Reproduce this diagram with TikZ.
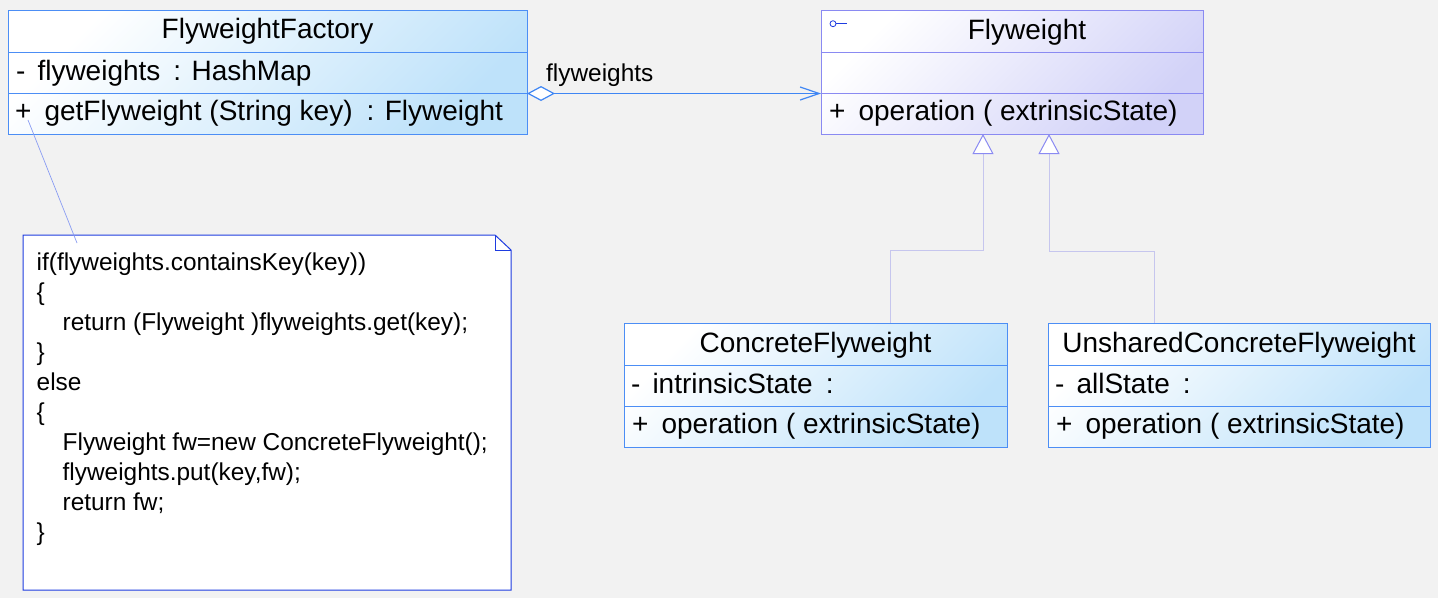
\documentclass[tikz,border=0pt]{standalone}
\usepackage{fontspec}
\setmainfont{Liberation Sans}
\usetikzlibrary{arrows.meta,positioning}

\definecolor{bgcol}{HTML}{F2F2F2}
\definecolor{clsline}{HTML}{4C8EF5}
\definecolor{clsfill}{HTML}{BEE2FA}
\definecolor{ifline}{HTML}{8A8AF2}
\definecolor{iffill}{HTML}{D2D2F8}
\definecolor{genline}{HTML}{C6C6EE}
\definecolor{noteborder}{HTML}{1E3CE0}
\definecolor{noteline}{HTML}{8A9CF2}
\definecolor{assoccol}{HTML}{3F86F4}

\tikzset{
  clsbox/.style={draw=clsline, line width=1pt, top color=white, bottom color=clsfill,
    shading angle=45, inner sep=0pt, outer sep=0pt, anchor=north west},
  ifbox/.style={clsbox, draw=ifline, bottom color=iffill, shading angle=45},
  title/.style={inner sep=0pt, anchor=base, font=\fontsize{28}{34}\selectfont},
  member/.style={inner sep=0pt, anchor=base west, font=\fontsize{28}{34}\selectfont},
  code/.style={inner sep=0pt, anchor=north west, align=left, font=\fontsize{24.4}{30}\selectfont},
  lbl/.style={inner sep=0pt, anchor=base west, font=\fontsize{24.4}{30}\selectfont},
  gen/.style={draw=genline, line width=0.8pt, -{Triangle[color=ifline, fill=white, length=20pt, width=21pt, line width=1pt]}},
  assoc/.style={color=assoccol, line width=1.2pt,
    {Diamond[fill=white, length=28pt, width=15pt]}-{Straight Barb[length=19pt, width=13pt]}},
}

\begin{document}
\begin{tikzpicture}[x=1pt, y=-1pt]
\useasboundingbox (0,0) rectangle (1438,598);
\fill[bgcol] (0,0) rectangle (1438,598);

% factory
\node[clsbox, minimum width=519, minimum height=124] (fact) at (8,10) {};
\draw[clsline] ([yshift=-42pt]fact.north west) -- ([yshift=-42pt]fact.north east);
\draw[clsline] ([yshift=-83pt]fact.north west) -- ([yshift=-83pt]fact.north east);
\node[title] (factT) at (267.5,38.5) {FlyweightFactory};
\node[member] (factA) at (16,80.5) {-\hspace{12pt}flyweights\hspace{13pt}: HashMap};
\node[member] (factO) at (15,120.5) {+\hspace{13pt}getFlyweight (String key)\hspace{14pt}: Flyweight};

% flyweight interface
\node[ifbox, minimum width=382, minimum height=124] (fw) at (821,10) {};
\draw[ifline] ([yshift=-42pt]fw.north west) -- ([yshift=-42pt]fw.north east);
\draw[ifline] ([yshift=-83pt]fw.north west) -- ([yshift=-83pt]fw.north east);
\node[circle, draw=noteborder, line width=0.8pt, inner sep=0pt, minimum size=6pt] (fwIcon) at (833,23.7) {};
\coordinate (fwIconEnd) at (847,23.7);
\draw[noteborder, line width=0.8pt] (fwIcon.east) -- (fwIconEnd);
\node[title] (fwT) at (1027,39) {Flyweight};
\node[member] (fwO) at (829,120.5) {+\hspace{13pt}operation ( extrinsicState)};

% concrete
\node[clsbox, minimum width=383, minimum height=124] (cf) at (624,323) {};
\draw[clsline] ([yshift=-42.5pt]cf.north west) -- ([yshift=-42.5pt]cf.north east);
\draw[clsline] ([yshift=-83.5pt]cf.north west) -- ([yshift=-83.5pt]cf.north east);
\node[title] (cfT) at (815.5,352) {ConcreteFlyweight};
\node[member] (cfA) at (631,393) {-\hspace{12pt}intrinsicState\hspace{13pt}:};
\node[member] (cfO) at (632,433.5) {+\hspace{13pt}operation ( extrinsicState)};

% unshared
\node[clsbox, minimum width=382, minimum height=124] (ucf) at (1048,323) {};
\draw[clsline] ([yshift=-42.5pt]ucf.north west) -- ([yshift=-42.5pt]ucf.north east);
\draw[clsline] ([yshift=-83.5pt]ucf.north west) -- ([yshift=-83.5pt]ucf.north east);
\node[title] (ucfT) at (1239,352) {UnsharedConcreteFlyweight};
\node[member] (ucfA) at (1055,393) {-\hspace{12pt}allState\hspace{13pt}:};
\node[member] (ucfO) at (1056,433.5) {+\hspace{13pt}operation ( extrinsicState)};

% association
\draw[assoc] (fact.east |- 0,93.5) -- (fw.west |- 0,93.5);
\node[lbl] (assocL) at (546,81.5) {flyweights};

% generalizations
\draw[gen] (cf.north -| 890,0) -- (890,250.5) -| (fw.south -| 983,0);
\draw[gen] (ucf.north -| 1154,0) -- (1154,251.5) -| (fw.south -| 1049,0);

% note
\node[inner sep=0pt, outer sep=0pt, minimum width=488, minimum height=355, anchor=north west] (note) at (23,235) {};
\draw[noteborder, line width=1pt, fill=white] (note.north west) -- ([xshift=-16pt]note.north east)
  -- ([yshift=-15pt]note.north east) -- (note.south east) -- (note.south west) -- cycle;
\draw[noteborder, line width=1pt] ([xshift=-16pt]note.north east) |- ([yshift=-15pt]note.north east);
\node[code] (noteT) at (36.5,250.5) {\rule{0pt}{20pt}if(flyweights.containsKey(key))\\
\{\\
\hspace*{26pt}return (Flyweight )flyweights.get(key);\\
\}\\
else\\
\{\\
\hspace*{26pt}Flyweight fw=new ConcreteFlyweight();\\
\hspace*{26pt}flyweights.put(key,fw);\\
\hspace*{26pt}return fw;\\
\}};
\coordinate (noteFrom) at (28,120);
\coordinate (noteTo) at (77,243);
\draw[noteline, line width=0.7pt] (noteFrom) -- (noteTo);
\end{tikzpicture}
\end{document}
